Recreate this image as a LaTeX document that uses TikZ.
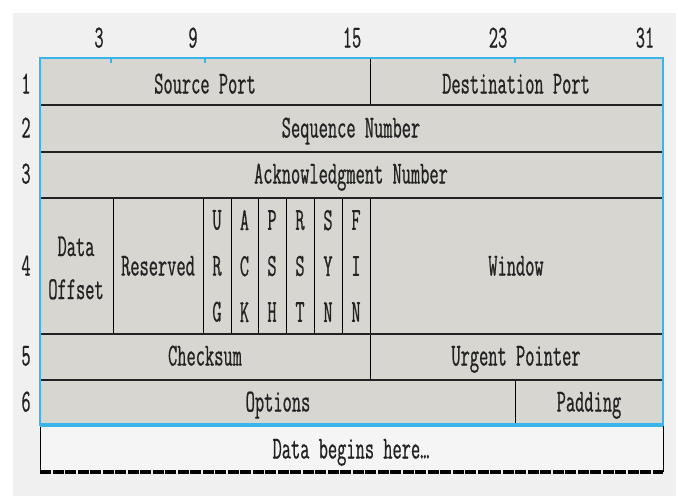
\documentclass[tikz,border=0pt]{standalone}
\usepackage{fontspec}
\newfontfamily\cond[FakeStretch=0.56,FakeBold=0.6]{Latin Modern Mono}
\definecolor{bgc}{RGB}{240,240,240}
\definecolor{cellfill}{RGB}{216,214,208}
\definecolor{blueb}{RGB}{56,182,236}
\definecolor{datafill}{RGB}{245,245,245}
\definecolor{ink}{RGB}{34,34,34}
\begin{document}
\begin{tikzpicture}[x=1pt,y=-1pt,
  txt/.style={font=\cond\fontsize{32}{46}\selectfont, text=ink, inner sep=0pt, text height=19pt, text depth=0pt},
  mtxt/.style={font=\cond\fontsize{32}{46}\selectfont, text=ink, inner sep=0pt, align=center},
  otxt/.style={font=\cond\fontsize{32}{43}\selectfont, text=ink, inner sep=0pt, align=center},
  sep/.style={draw=black, line width=0.9pt},
  rowsep/.style={draw=ink, line width=2.4pt},
  bluebox/.style={draw=blueb, line width=2pt},
  tick/.style={draw=blueb, line width=1.2pt}]
\useasboundingbox (0,0) rectangle (678,496);
\fill[white] (0,0) rectangle (678,496);
\fill[bgc] (13,13) rectangle (676,496);
% cells
\fill[cellfill] (40,58) rectangle (663,425);
\fill[datafill] (40,425) rectangle (663,472);
% column labels
\node[txt] (c3) at (99,38) {3};
\node[txt] (c9) at (193,38) {9};
\node[txt] (c15) at (352,38) {15};
\node[txt] (c23) at (498,38) {23};
\node[txt] (c31) at (645,38) {31};
% row labels
\node[txt] (r1) at (26,84) {1};
\node[txt] (r2) at (26,128) {2};
\node[txt] (r3) at (26,174) {3};
\node[txt] (r4) at (26,266) {4};
\node[txt] (r5) at (26,356) {5};
\node[txt] (r6) at (26,402) {6};
% vertical separators
\draw[sep] (370,58) -- (370,105);
\foreach \x in {113,203,231,258,286,314,342,370} \draw[sep] (\x,198) -- (\x,334);
\draw[sep] (370,334) -- (370,380);
\draw[sep] (515,380) -- (515,425);
% row separators
\foreach \y in {105,152,198,334,380} \draw[rowsep] (40,\y) -- (663,\y);
% field texts
\node[txt] (sport) at (205,84) {Source Port};
\node[txt] (dport) at (516,84) {Destination Port};
\node[txt] (seq) at (351,128) {Sequence Number};
\node[txt] (ack) at (351,174) {Acknowledgment Number};
\node[otxt] (doff) at (76,268) {Data\\Offset};
\node[txt] (res) at (158,266) {Reserved};
\node[mtxt] (urg) at (217,266) {U\\R\\G};
\node[mtxt] (ackf) at (244.5,266) {A\\C\\K};
\node[mtxt] (psh) at (272,266) {P\\S\\H};
\node[mtxt] (rst) at (300,266) {R\\S\\T};
\node[mtxt] (syn) at (328,266) {S\\Y\\N};
\node[mtxt] (fin) at (356,266) {F\\I\\N};
\node[txt] (win) at (516,266) {Window};
\node[txt] (chk) at (205,356) {Checksum};
\node[txt] (urgp) at (516,356) {Urgent Pointer};
\node[txt] (opt) at (278,402) {Options};
\node[txt] (pad) at (589,402) {Padding};
\node[txt] (data) at (351,449) {Data begins here…};
% data row borders
\draw[black, line width=0.9pt] (40,425) -- (40,472);
\draw[black, line width=0.9pt] (663,425) -- (663,472);
\draw[black, line width=3.6pt, dash pattern=on 11pt off 1.5pt] (40,472) -- (663,472);
% blue outline
\draw[bluebox] (40,58) rectangle (663,425);
\draw[blueb, line width=3.5pt] (40,425) -- (663,425);
\foreach \x in {111,205,515} \draw[tick] (\x,58) -- (\x,63);
\end{tikzpicture}
\end{document}
